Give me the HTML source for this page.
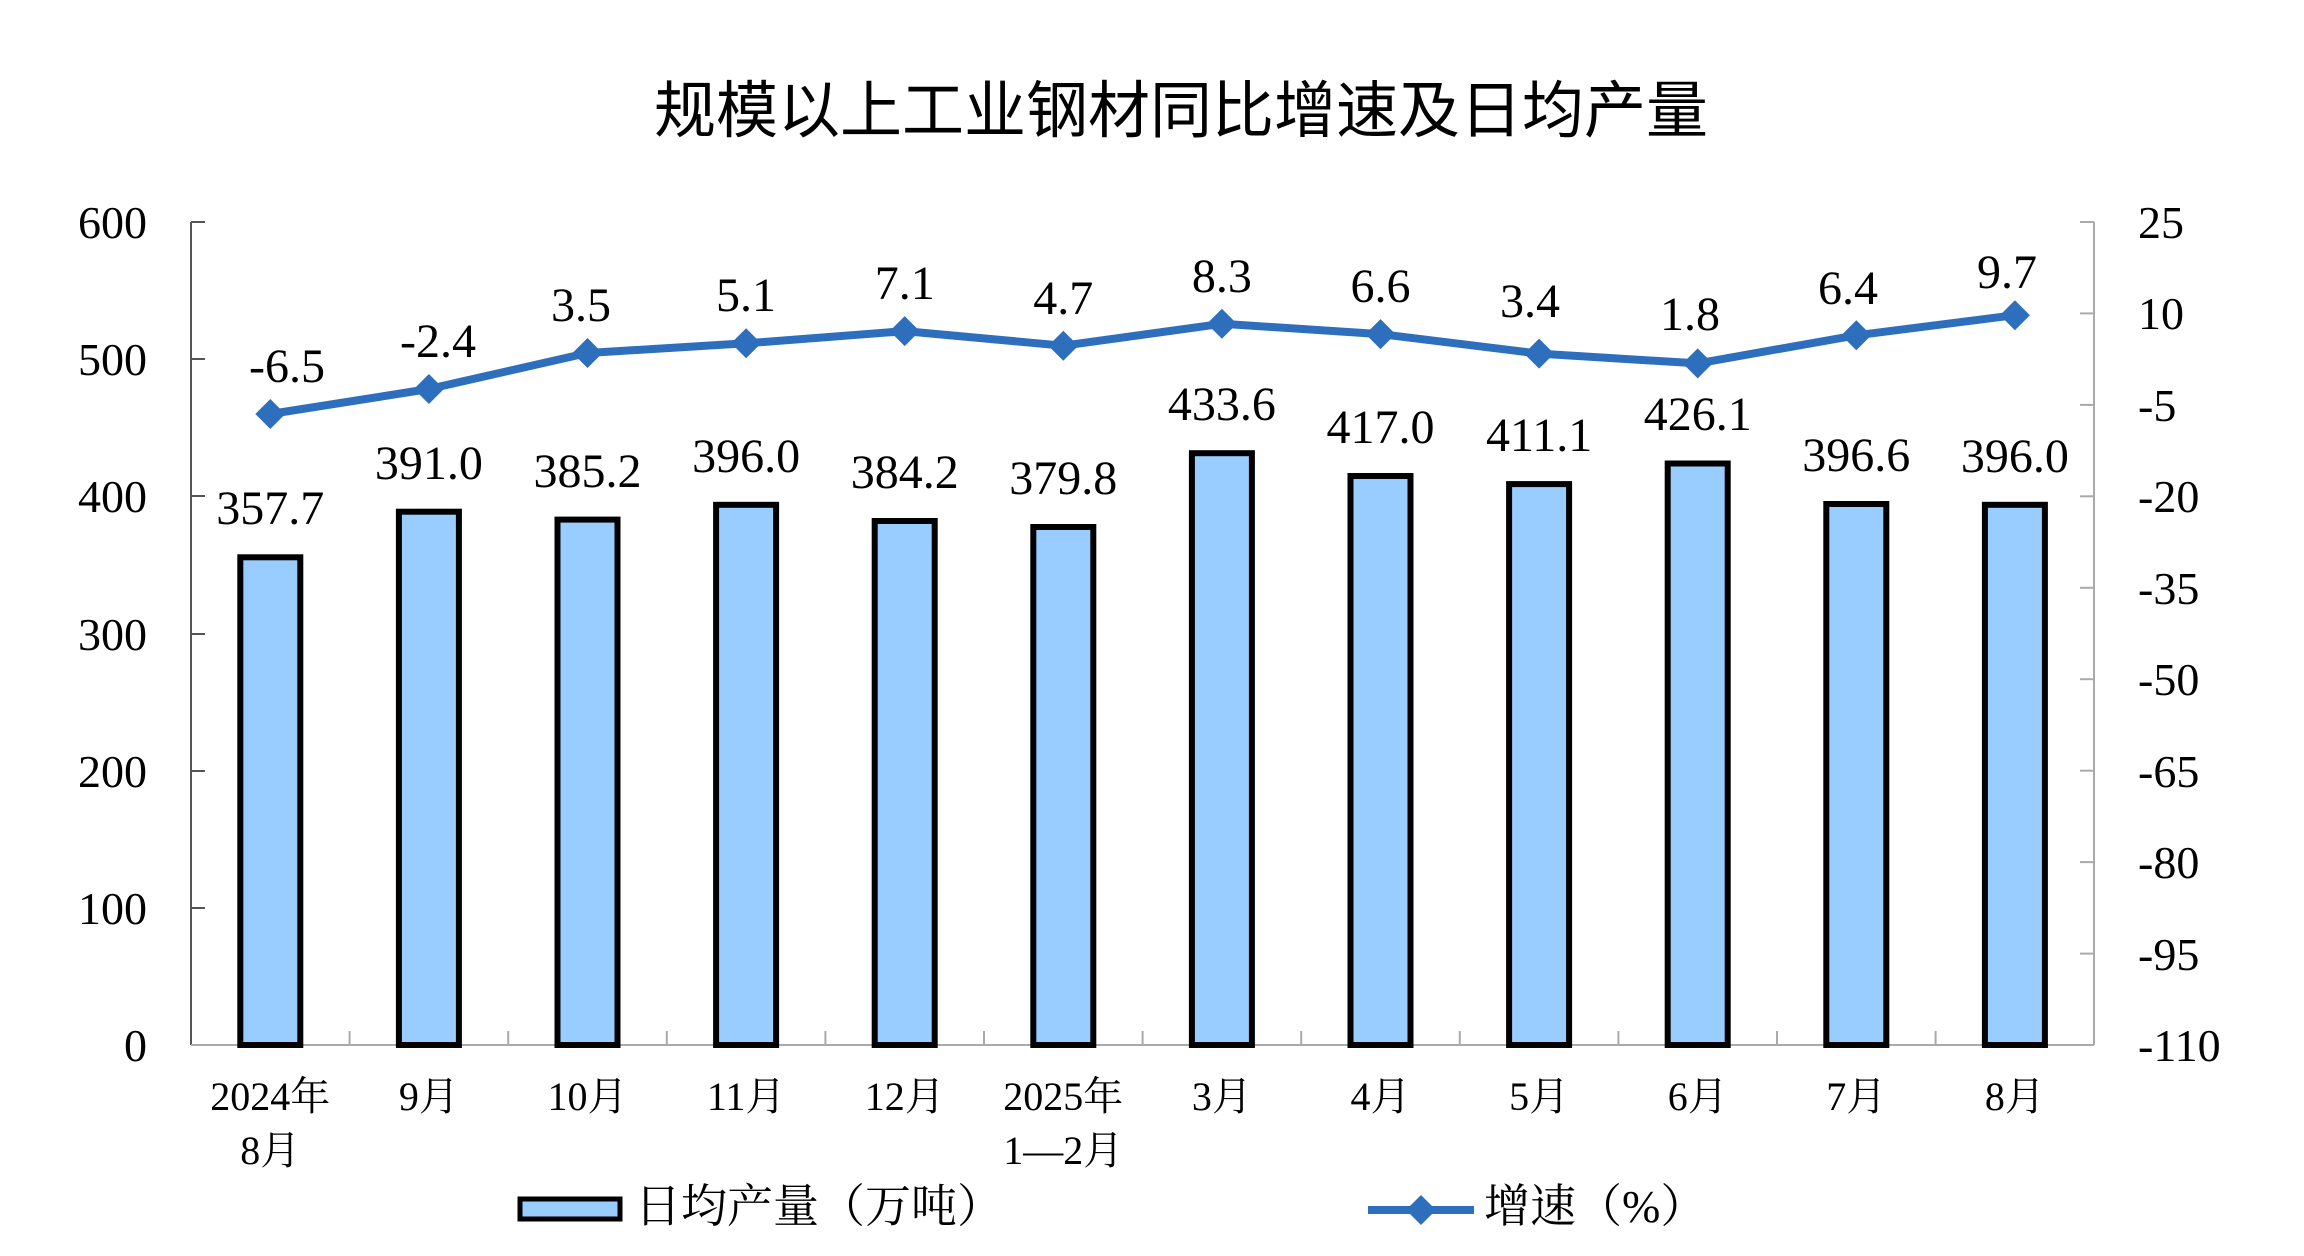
<!DOCTYPE html>
<html><head><meta charset="utf-8"><style>
html,body{margin:0;padding:0;background:#fff;}
svg{display:block;}
.n{font-family:"Liberation Serif","Noto Serif CJK SC",serif;font-size:48px;fill:#000;}
.a{font-family:"Liberation Serif","Noto Serif CJK SC",serif;font-size:46px;fill:#000;}
.c{font-family:"Liberation Serif","Noto Serif CJK SC",serif;font-size:40px;fill:#000;}
</style></head><body>
<svg width="2304" height="1256" viewBox="0 0 2304 1256" xmlns="http://www.w3.org/2000/svg">
<text x="1181" y="132" text-anchor="middle" style="font-family:'Liberation Sans','Noto Sans CJK SC',sans-serif;font-size:62px;font-weight:normal;">规模以上工业钢材同比增速及日均产量</text>
<g stroke="#555" stroke-width="2" fill="none">
<line x1="191" y1="222" x2="191" y2="1045"/>
<line x1="191" y1="222" x2="205" y2="222"/><line x1="191" y1="359" x2="205" y2="359"/><line x1="191" y1="496" x2="205" y2="496"/><line x1="191" y1="634" x2="205" y2="634"/><line x1="191" y1="771" x2="205" y2="771"/><line x1="191" y1="908" x2="205" y2="908"/>
</g>
<g stroke="#aaa" stroke-width="2" fill="none">
<line x1="2094" y1="222" x2="2094" y2="1045"/>
<line x1="191" y1="1045" x2="2094" y2="1045"/>
<line x1="2080" y1="222" x2="2094" y2="222"/><line x1="2080" y1="313.4" x2="2094" y2="313.4"/><line x1="2080" y1="404.9" x2="2094" y2="404.9"/><line x1="2080" y1="496.3" x2="2094" y2="496.3"/><line x1="2080" y1="587.8" x2="2094" y2="587.8"/><line x1="2080" y1="679.2" x2="2094" y2="679.2"/><line x1="2080" y1="770.7" x2="2094" y2="770.7"/><line x1="2080" y1="862.1" x2="2094" y2="862.1"/><line x1="2080" y1="953.6" x2="2094" y2="953.6"/>
<line x1="349.6" y1="1031" x2="349.6" y2="1045"/><line x1="508.2" y1="1031" x2="508.2" y2="1045"/><line x1="666.8" y1="1031" x2="666.8" y2="1045"/><line x1="825.4" y1="1031" x2="825.4" y2="1045"/><line x1="984" y1="1031" x2="984" y2="1045"/><line x1="1142.6" y1="1031" x2="1142.6" y2="1045"/><line x1="1301.2" y1="1031" x2="1301.2" y2="1045"/><line x1="1459.8" y1="1031" x2="1459.8" y2="1045"/><line x1="1618.4" y1="1031" x2="1618.4" y2="1045"/><line x1="1777" y1="1031" x2="1777" y2="1045"/><line x1="1935.6" y1="1031" x2="1935.6" y2="1045"/>
</g>
<g class="a" text-anchor="end">
<text x="147" y="238">600</text><text x="147" y="375">500</text><text x="147" y="512">400</text><text x="147" y="650">300</text><text x="147" y="787">200</text><text x="147" y="924">100</text><text x="147" y="1061">0</text>
</g>
<g class="a" text-anchor="start">
<text x="2138" y="238">25</text><text x="2138" y="329">10</text><text x="2138" y="421">-5</text><text x="2138" y="512">-20</text><text x="2138" y="604">-35</text><text x="2138" y="695">-50</text><text x="2138" y="787">-65</text><text x="2138" y="878">-80</text><text x="2138" y="970">-95</text><text x="2138" y="1061">-110</text>
</g>
<g fill="#99ccff" stroke="#000" stroke-width="6">
<rect x="240.3" y="557.3" width="60" height="487.7"/>
<rect x="398.9" y="511.7" width="60" height="533.3"/>
<rect x="557.5" y="519.6" width="60" height="525.4"/>
<rect x="716.1" y="504.8" width="60" height="540.2"/>
<rect x="874.7" y="521" width="60" height="524"/>
<rect x="1033.3" y="527" width="60" height="518"/>
<rect x="1191.9" y="453.2" width="60" height="591.8"/>
<rect x="1350.5" y="476" width="60" height="569"/>
<rect x="1509.1" y="484.1" width="60" height="560.9"/>
<rect x="1667.7" y="463.5" width="60" height="581.5"/>
<rect x="1826.3" y="504" width="60" height="541"/>
<rect x="1984.9" y="504.8" width="60" height="540.2"/>
</g>
<g class="n" text-anchor="middle">
<text x="270.3" y="524">357.7</text><text x="428.9" y="479">391.0</text><text x="587.5" y="487">385.2</text><text x="746.1" y="472">396.0</text><text x="904.7" y="488">384.2</text><text x="1063.3" y="494">379.8</text><text x="1221.9" y="420">433.6</text><text x="1380.5" y="443">417.0</text><text x="1539.1" y="451">411.1</text><text x="1697.7" y="430">426.1</text><text x="1856.3" y="471">396.6</text><text x="2014.9" y="472">396.0</text>
</g>
<polyline fill="none" stroke="#2e6fbd" stroke-width="8" stroke-linejoin="round" points="270.3,414 428.9,389 587.5,353 746.1,343.3 904.7,331.1 1063.3,345.7 1221.9,323.8 1380.5,334.1 1539.1,353.6 1697.7,363.4 1856.3,335.3 2014.9,315.2"/>
<g fill="#2e6fbd">
<path d="M270.3,399 l15,15 -15,15 -15,-15z"/><path d="M428.9,374 l15,15 -15,15 -15,-15z"/><path d="M587.5,338 l15,15 -15,15 -15,-15z"/><path d="M746.1,328.3 l15,15 -15,15 -15,-15z"/><path d="M904.7,316.1 l15,15 -15,15 -15,-15z"/><path d="M1063.3,330.7 l15,15 -15,15 -15,-15z"/><path d="M1221.9,308.8 l15,15 -15,15 -15,-15z"/><path d="M1380.5,319.1 l15,15 -15,15 -15,-15z"/><path d="M1539.1,338.6 l15,15 -15,15 -15,-15z"/><path d="M1697.7,348.4 l15,15 -15,15 -15,-15z"/><path d="M1856.3,320.3 l15,15 -15,15 -15,-15z"/><path d="M2014.9,300.2 l15,15 -15,15 -15,-15z"/>
</g>
<g class="n" text-anchor="middle">
<text x="287" y="382">-6.5</text><text x="438" y="357">-2.4</text><text x="581" y="321">3.5</text><text x="746" y="311">5.1</text><text x="904.7" y="299">7.1</text><text x="1063.3" y="314">4.7</text><text x="1221.9" y="292">8.3</text><text x="1380.5" y="302">6.6</text><text x="1530" y="317">3.4</text><text x="1690" y="330">1.8</text><text x="1848" y="304">6.4</text><text x="2007" y="288">9.7</text>
</g>
<g class="c" text-anchor="middle">
<text x="270.3" y="1110">2024年</text><text x="270.3" y="1164">8月</text>
<text x="428.9" y="1110">9月</text><text x="587.5" y="1110">10月</text><text x="746.1" y="1110">11月</text><text x="904.7" y="1110">12月</text>
<text x="1063.3" y="1110">2025年</text><text x="1063.3" y="1164">1—2月</text>
<text x="1221.9" y="1110">3月</text><text x="1380.5" y="1110">4月</text><text x="1539.1" y="1110">5月</text><text x="1697.7" y="1110">6月</text><text x="1856.3" y="1110">7月</text><text x="2014.9" y="1110">8月</text>
</g>
<rect x="520" y="1199" width="100" height="20" fill="#99ccff" stroke="#000" stroke-width="5"/>
<text x="635" y="1222" class="a">日均产量（万吨）</text>
<line x1="1368" y1="1210" x2="1474" y2="1210" stroke="#2e6fbd" stroke-width="8"/>
<path d="M1421,1195 l15,15 -15,15 -15,-15z" fill="#2e6fbd"/>
<text x="1484" y="1222" class="a">增速（%）</text>
</svg>
</body></html>
